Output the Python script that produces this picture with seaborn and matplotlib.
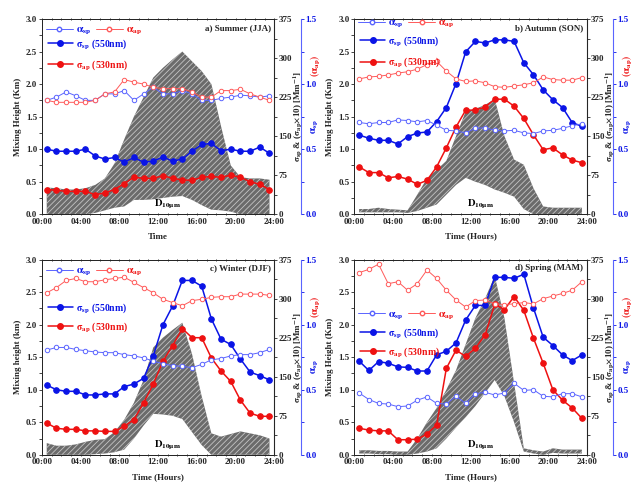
import numpy as np
import matplotlib
matplotlib.use('Agg')
import matplotlib.pyplot as plt
import seaborn as sns
from matplotlib.ticker import MultipleLocator
from matplotlib.lines import Line2D

sns.set_style('ticks')
plt.rcParams['font.family'] = ['Liberation Serif', 'DejaVu Serif']
plt.rcParams['font.weight'] = 'bold'
plt.rcParams['axes.labelweight'] = 'bold'
plt.rcParams['mathtext.fontset'] = 'stix'
plt.rcParams['hatch.linewidth'] = 0.6

# hour of day (half-hour centred)
hours = [0.5, 1.5, 2.5, 3.5, 4.5, 5.5, 6.5, 7.5, 8.5, 9.5, 10.5, 11.5,
         12.5, 13.5, 14.5, 15.5, 16.5, 17.5, 18.5, 19.5, 20.5, 21.5, 22.5, 23.5]
xtick_labels = ['00:00', '04:00', '08:00', '12:00', '16:00', '20:00', '24:00']

# a) Summer
sum_mh_top = [0.41, 0.40, 0.38, 0.38, 0.40, 0.45, 0.55, 0.78, 1.15, 1.5, 1.8, 2.1,
              2.25, 2.38, 2.5, 2.35, 2.2, 2.0, 1.35, 0.75, 0.57, 0.55, 0.55, 0.53]
sum_mh_bot = [0, 0, 0, 0, 0, 0.02, 0.06, 0.1, 0.12, 0.22, 0.22, 0.23,
              0.25, 0.27, 0.28, 0.22, 0.14, 0.07, 0.06, 0.04, 0, 0, 0, 0]
sum_ssp = [125, 121, 121, 121, 125, 112, 106, 109, 100, 109, 100, 102,
           110, 102, 106, 121, 134, 136, 122, 125, 121, 121, 129, 117]
sum_sap = [4.75, 4.6, 4.4, 4.4, 4.4, 3.75, 4.1, 4.75, 5.9, 7.1, 6.9, 6.9,
           7.4, 6.9, 6.6, 6.5, 7.1, 7.25, 7.1, 7.5, 7.1, 6.25, 5.75, 4.75]
sum_asp = [0.875, 0.90, 0.94, 0.91, 0.875, 0.875, 0.925, 0.925, 0.95, 0.875, 0.925, 0.975,
           0.925, 0.925, 0.95, 0.925, 0.875, 0.875, 0.89, 0.90, 0.915, 0.91, 0.90, 0.91]
sum_aap = [0.875, 0.86, 0.86, 0.86, 0.86, 0.875, 0.925, 0.94, 1.035, 1.015, 1.0, 0.975,
           0.965, 0.965, 0.965, 0.94, 0.90, 0.90, 0.95, 0.95, 0.96, 0.925, 0.90, 0.875]

# b) Autumn
aut_mh_top = [0.08, 0.08, 0.1, 0.08, 0.07, 0.06, 0.3, 0.55, 0.68, 0.82, 1.2, 1.58,
              1.62, 1.68, 1.77, 1.2, 0.84, 0.76, 0.4, 0.12, 0.1, 0.1, 0.1, 0.1]
aut_mh_bot = [0.03, 0.03, 0.03, 0.03, 0.03, 0.02, 0.05, 0.1, 0.15, 0.3, 0.45, 0.56,
              0.5, 0.45, 0.38, 0.33, 0.27, 0.08, 0, 0, 0, 0, 0, 0]
aut_ssp = [152, 146, 142, 142, 135, 149, 156, 158, 178, 205, 251, 312,
           332, 329, 335, 335, 332, 291, 268, 239, 220, 205, 176, 169]
aut_sap = [9.1, 8.0, 8.0, 7.0, 7.25, 6.75, 5.75, 6.5, 9.1, 12.75, 16.75, 20,
           20, 20.6, 22.1, 22.1, 20.75, 18.4, 15.25, 12.4, 12.75, 11.4, 10.4, 9.9]
aut_asp = [0.705, 0.695, 0.705, 0.705, 0.725, 0.72, 0.71, 0.72, 0.685, 0.645, 0.64, 0.625,
           0.66, 0.665, 0.645, 0.64, 0.645, 0.625, 0.62, 0.64, 0.645, 0.66, 0.68, 0.695]
aut_aap = [1.04, 1.055, 1.06, 1.07, 1.085, 1.095, 1.115, 1.15, 1.175, 1.10, 1.04, 1.02,
           1.025, 1.01, 0.98, 0.975, 0.985, 0.995, 1.01, 1.055, 1.035, 1.03, 1.03, 1.05]

# c) Winter
win_mh_top = [0.18, 0.14, 0.14, 0.16, 0.2, 0.23, 0.24, 0.35, 0.54, 0.8, 1.15, 1.65,
              1.8, 1.92, 2.03, 1.55, 0.9, 0.33, 0.28, 0.32, 0.36, 0.33, 0.3, 0.25]
win_mh_bot = [0, 0, 0, 0, 0, 0.01, 0.02, 0.04, 0.08, 0.25, 0.45, 0.63,
              0.62, 0.6, 0.55, 0.35, 0.15, 0, 0, 0, 0, 0, 0, 0]
win_ssp = [134, 125, 122, 122, 115, 115, 117, 117, 131, 136, 147, 190,
           250, 286, 335, 335, 324, 261, 222, 212, 184, 159, 152, 144]
win_sap = [6.1, 5.1, 4.9, 4.9, 4.6, 4.6, 4.5, 4.5, 5.5, 6.75, 10, 13.6,
           18, 21, 24.25, 22.5, 22.5, 18.6, 16.1, 14.1, 10.5, 8, 7.4, 7.4]
win_asp = [0.805, 0.825, 0.825, 0.81, 0.80, 0.79, 0.785, 0.785, 0.77, 0.76, 0.745, 0.72,
           0.70, 0.685, 0.68, 0.67, 0.695, 0.73, 0.74, 0.76, 0.77, 0.77, 0.785, 0.81]
win_aap = [1.245, 1.285, 1.34, 1.355, 1.33, 1.33, 1.345, 1.355, 1.365, 1.325, 1.285, 1.245,
           1.195, 1.17, 1.145, 1.185, 1.195, 1.21, 1.215, 1.215, 1.235, 1.235, 1.235, 1.225]

# d) Spring
spr_mh_top = [0.07, 0.07, 0.06, 0.06, 0.05, 0.05, 0.25, 0.5, 0.72, 1.0, 1.3, 1.7,
              2.1, 2.4, 2.75, 2.1, 1.1, 0.1, 0.07, 0.05, 0.1, 0.08, 0.08, 0.08]
spr_mh_bot = [0.02, 0.02, 0.01, 0.01, 0, 0, 0.02, 0.05, 0.1, 0.25, 0.42, 0.58,
              0.75, 0.95, 1.15, 0.9, 0.5, 0.05, 0.02, 0, 0.03, 0.02, 0.02, 0.02]
spr_ssp = [180, 162, 179, 176, 169, 168, 161, 161, 192, 199, 215, 259,
           287, 287, 341, 341, 339, 347, 282, 226, 210, 192, 181, 192]
spr_sap = [5.1, 4.75, 4.6, 4.6, 2.9, 2.9, 3.0, 4.0, 5.75, 16.6, 20.1, 18.9,
           20.5, 23, 28.9, 27.9, 30.4, 27.75, 22.4, 17.6, 12.5, 10.5, 9, 7]
spr_asp = [0.475, 0.425, 0.395, 0.39, 0.37, 0.375, 0.42, 0.445, 0.395, 0.39, 0.45, 0.395,
           0.47, 0.48, 0.46, 0.475, 0.55, 0.495, 0.50, 0.45, 0.445, 0.47, 0.47, 0.445]
spr_aap = [1.40, 1.425, 1.465, 1.315, 1.33, 1.265, 1.315, 1.42, 1.355, 1.265, 1.19, 1.135,
           1.185, 1.19, 1.16, 1.155, 1.16, 1.17, 1.16, 1.20, 1.22, 1.24, 1.265, 1.33]

BLUE = '#0a14e6'
RED = '#ee1111'
LBLUE = '#5a64ff'
LRED = '#ff5a5a'
FS = 6.5


def panel(rect, mh_top, mh_bot, ssp, sap, asp, aap, title, xlabel, ylabel,
          leg1_y, leg2_y, leg2_sp):
    ax = fig.add_axes(rect)
    ax.fill_between(hours, mh_bot, mh_top, facecolor='#6b6b6b', edgecolor='#c4c4c4',
                    hatch='//////', linewidth=0, zorder=1)
    ax.text(13.0, 0.12, r'$\mathbf{D_{10\mu m}}$', fontsize=7.5, ha='center', color='black')
    ax.set_xlim(0, 24)
    ax.set_ylim(0, 3)
    ax.set_xticks([0, 4, 8, 12, 16, 20, 24])
    ax.set_xticklabels(xtick_labels)
    ax.xaxis.set_minor_locator(MultipleLocator(1))
    ax.yaxis.set_major_locator(MultipleLocator(0.5))
    ax.yaxis.set_minor_locator(MultipleLocator(0.25))
    ax.tick_params(axis='both', which='both', labelsize=FS, length=2, width=0.6, pad=1.5)
    ax.tick_params(axis='x', which='both', top=True, direction='inout')
    ax.set_xlabel(xlabel, fontsize=FS, labelpad=5)
    ax.set_ylabel(ylabel, fontsize=FS, labelpad=3)
    ax.text(0.985, 0.975, title, transform=ax.transAxes, ha='right', va='top', fontsize=FS)

    ax2 = ax.twinx()
    ax2.set_ylim(0, 375)
    ax2.yaxis.set_major_locator(MultipleLocator(75))
    ax2.yaxis.set_minor_locator(MultipleLocator(37.5))
    sap10 = [v * 10 for v in sap]
    sns.lineplot(x=hours, y=ssp, ax=ax2, color=BLUE, marker='o', markersize=4,
                 markeredgecolor=BLUE, linewidth=1.1, zorder=4)
    sns.lineplot(x=hours, y=sap10, ax=ax2, color=RED, marker='o', markersize=4,
                 markeredgecolor=RED, linewidth=1.1, zorder=4)
    ax2.tick_params(axis='y', which='both', labelsize=FS, length=2, width=0.6, pad=1)
    ax2.set_ylabel(r'$\mathbf{\sigma_{sp}}$ & ($\mathbf{\sigma_{ap}}$$\times$10) [Mm$^{-1}$]',
                   fontsize=FS)
    ax2.yaxis.set_label_coords(1.075, 0.5)

    ax3 = ax.twinx()
    ax3.set_ylim(0, 1.5)
    ax3.spines['right'].set_position(('axes', 1.115))
    ax3.spines['right'].set_color(LBLUE)
    ax3.yaxis.set_major_locator(MultipleLocator(0.5))
    ax3.yaxis.set_minor_locator(MultipleLocator(0.25))
    ax3.tick_params(axis='y', which='both', colors=BLUE, labelsize=FS, length=2,
                    width=0.6, pad=1)
    ax3.yaxis.set_major_formatter(matplotlib.ticker.FormatStrFormatter('%.1f'))
    sns.lineplot(x=hours, y=asp, ax=ax3, color=LBLUE, marker='o', markersize=3.2,
                 markerfacecolor='white', markeredgecolor=LBLUE, markeredgewidth=0.7,
                 linewidth=0.7, zorder=3)
    sns.lineplot(x=hours, y=aap, ax=ax3, color=LRED, marker='o', markersize=3.2,
                 markerfacecolor='white', markeredgecolor=LRED, markeredgewidth=0.7,
                 linewidth=0.7, zorder=3)
    ax3.set_ylabel('')
    ax3.text(1.178, 0.45, r'$\mathbf{\alpha_{sp}}$', transform=ax.transAxes, rotation=90,
             color=BLUE, fontsize=FS + 0.5, ha='center', va='center')
    ax3.text(1.178, 0.76, r'$\mathbf{(\alpha_{ap})}$', transform=ax.transAxes, rotation=90,
             color=RED, fontsize=FS + 0.5, ha='center', va='center')

    h_open = [Line2D([], [], color=LBLUE, marker='o', markersize=3.2, markerfacecolor='white',
                     linewidth=0.7),
              Line2D([], [], color=LRED, marker='o', markersize=3.2, markerfacecolor='white',
                     linewidth=0.7)]
    leg1 = ax3.legend(h_open, [r'$\mathbf{\alpha_{sp}}$', r'$\mathbf{\alpha_{ap}}$'],
                      loc='upper left', bbox_to_anchor=(-0.01, leg1_y), ncol=2,
                      frameon=False, fontsize=FS + 1, handlelength=2.6, handletextpad=0.3,
                      columnspacing=0.4, borderpad=0.1)
    for t, c in zip(leg1.get_texts(), [BLUE, RED]):
        t.set_color(c)
    ax3.add_artist(leg1)
    h_fill = [Line2D([], [], color=BLUE, marker='o', markersize=4, linewidth=1.1),
              Line2D([], [], color=RED, marker='o', markersize=4, linewidth=1.1)]
    leg2 = ax3.legend(h_fill, [r'$\mathbf{\sigma_{sp}}$ (550nm)', r'$\mathbf{\sigma_{ap}}$ (530nm)'],
                      loc='upper left', bbox_to_anchor=(0.0, leg2_y), frameon=False,
                      fontsize=FS + 0.5, handlelength=2.6, handletextpad=0.3,
                      labelspacing=leg2_sp, borderpad=0.1)
    for t, c in zip(leg2.get_texts(), [BLUE, RED]):
        t.set_color(c)

    for a in (ax, ax2, ax3):
        for s in ('top', 'bottom', 'left'):
            a.spines[s].set_linewidth(0.6)
    ax2.spines['right'].set_linewidth(0.6)
    ax3.spines['right'].set_linewidth(0.8)
    return ax


fig = plt.figure(figsize=(6.35, 4.88), dpi=100)

W = 0.366
panel([0.066, 0.561, W, 0.40], sum_mh_top, sum_mh_bot, sum_ssp, sum_sap, sum_asp, sum_aap,
      'a) Summer (JJA)', 'Time', 'Mixing Height (Km)', 1.0, 0.94, 0.8)
panel([0.558, 0.561, W, 0.40], aut_mh_top, aut_mh_bot, aut_ssp, aut_sap, aut_asp, aut_aap,
      'b) Autumn (SON)', 'Time (Hours)', 'Mixing Height (Km)', 1.035, 0.955, 0.8)
panel([0.066, 0.068, W, 0.40], win_mh_top, win_mh_bot, win_ssp, win_sap, win_asp, win_aap,
      'c) Winter (DJF)', 'Time (Hours)', 'Mixing height (km)', 1.0, 0.82, 0.55)
panel([0.558, 0.068, W, 0.40], spr_mh_top, spr_mh_bot, spr_ssp, spr_sap, spr_asp, spr_aap,
      'd) Spring (MAM)', 'Time (Hours)', 'Mixing Height (Km)', 0.775, 0.69, 0.55)

fig.savefig('out.png', dpi=100)
